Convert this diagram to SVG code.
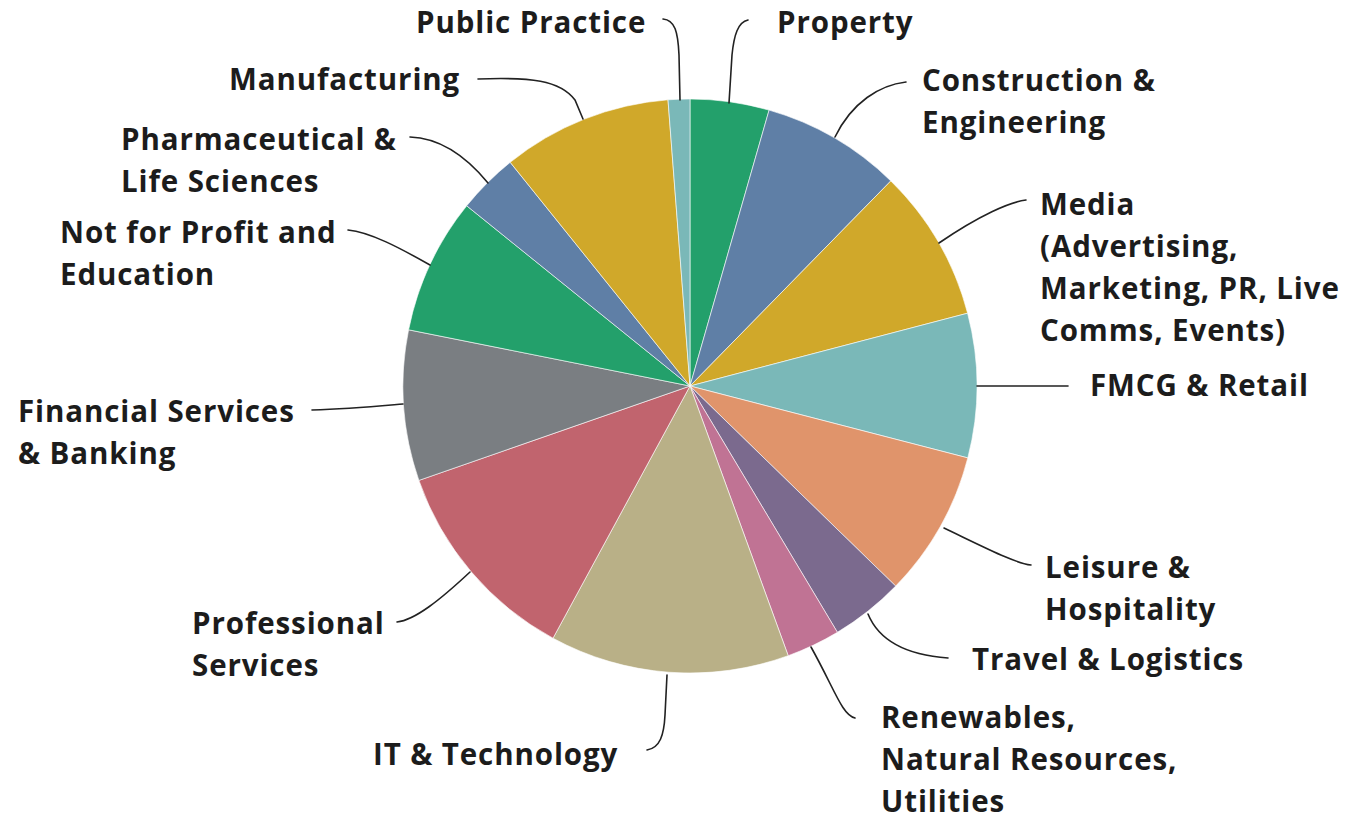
<svg xmlns="http://www.w3.org/2000/svg" width="1345" height="819" viewBox="0 0 1345 819">
<style>
.s{stroke:#ffffff;stroke-width:0.6;stroke-linejoin:round}
.l{fill:none;stroke:#222;stroke-width:1.6;stroke-linecap:round}
text{font-family:"Open Sans","Liberation Sans",sans-serif;font-weight:700;font-size:29.5px;letter-spacing:0.9px;fill:#1c1c1c}
</style>
<rect width="1345" height="819" fill="#ffffff"/>
<g id="pie">
<g id="slice-property"><path class="s" fill="#23a06b" d="M690,386 L690,99 A287,287 0 0 1 769.1,110.1 Z"/></g>
<g id="slice-construction"><path class="s" fill="#5f7fa6" d="M690,386 L769.1,110.1 A287,287 0 0 1 890.8,180.9 Z"/></g>
<g id="slice-media"><path class="s" fill="#d0a82a" d="M690,386 L890.8,180.9 A287,287 0 0 1 967.6,313.2 Z"/></g>
<g id="slice-fmcg"><path class="s" fill="#7ab8b8" d="M690,386 L967.6,313.2 A287,287 0 0 1 967.8,457.9 Z"/></g>
<g id="slice-leisure"><path class="s" fill="#e0946b" d="M690,386 L967.8,457.9 A287,287 0 0 1 895.7,586.1 Z"/></g>
<g id="slice-travel"><path class="s" fill="#7b6a8e" d="M690,386 L895.7,586.1 A287,287 0 0 1 837.4,632.3 Z"/></g>
<g id="slice-renewables"><path class="s" fill="#c07394" d="M690,386 L837.4,632.3 A287,287 0 0 1 788.2,655.7 Z"/></g>
<g id="slice-it"><path class="s" fill="#b9b087" d="M690,386 L788.2,655.7 A287,287 0 0 1 553,638.2 Z"/></g>
<g id="slice-professional"><path class="s" fill="#c1646e" d="M690,386 L553,638.2 A287,287 0 0 1 418.9,480.4 Z"/></g>
<g id="slice-financial"><path class="s" fill="#7a7e82" d="M690,386 L418.9,480.4 A287,287 0 0 1 408.6,329.8 Z"/></g>
<g id="slice-notforprofit"><path class="s" fill="#23a06b" d="M690,386 L408.6,329.8 A287,287 0 0 1 466.7,205.8 Z"/></g>
<g id="slice-pharma"><path class="s" fill="#5f7fa6" d="M690,386 L466.7,205.8 A287,287 0 0 1 510.2,162.3 Z"/></g>
<g id="slice-manufacturing"><path class="s" fill="#d0a82a" d="M690,386 L510.2,162.3 A287,287 0 0 1 668,99.8 Z"/></g>
<g id="slice-public"><path class="s" fill="#7ab8b8" d="M690,386 L668,99.8 A287,287 0 0 1 690,99 Z"/></g>
</g>
<g id="connectors">
<path class="l" d="M663,19 C675,20 678,32 679,55 L680,100"/>
<path class="l" d="M748,20 C738,22 734,35 732,55 L729,103"/>
<path class="l" d="M906,82 C880,85 852,102 835,137"/>
<path class="l" d="M1026,200 C1010,202 980,215 939,243"/>
<path class="l" d="M977,386 L1068,386"/>
<path class="l" d="M1031,565 C1015,563 990,550 944,528"/>
<path class="l" d="M948,658 C920,656 882,648 868,614"/>
<path class="l" d="M855,718 C842,715 835,690 811,647"/>
<path class="l" d="M647,750 C660,748 664,735 665,715 L667,675"/>
<path class="l" d="M397,622 C415,620 440,600 470,572"/>
<path class="l" d="M312,410 C350,409 380,406 403,404"/>
<path class="l" d="M348,230 C370,232 400,248 430,265"/>
<path class="l" d="M410,137 C440,138 465,155 488,183"/>
<path class="l" d="M478,79 C530,77 560,80 575,100 L583,119"/>
</g>
<g id="labels">
<g id="label-public"><text x="416" y="33">Public Practice</text></g>
<g id="label-property"><text x="777" y="33">Property</text></g>
<g id="label-construction"><text x="922" y="91">Construction &amp;</text><text x="922" y="133">Engineering</text></g>
<g id="label-media"><text x="1040" y="215">Media</text><text x="1040" y="257">(Advertising,</text><text x="1040" y="299">Marketing, PR, Live</text><text x="1040" y="341">Comms, Events)</text></g>
<g id="label-fmcg"><text x="1090" y="396">FMCG &amp; Retail</text></g>
<g id="label-leisure"><text x="1045" y="578">Leisure &amp;</text><text x="1045" y="620">Hospitality</text></g>
<g id="label-travel"><text x="972" y="670">Travel &amp; Logistics</text></g>
<g id="label-renewables"><text x="881" y="728">Renewables,</text><text x="881" y="770">Natural Resources,</text><text x="881" y="812">Utilities</text></g>
<g id="label-it"><text x="373" y="765">IT &amp; Technology</text></g>
<g id="label-professional"><text x="192" y="634">Professional</text><text x="192" y="676">Services</text></g>
<g id="label-financial"><text x="18" y="422">Financial Services</text><text x="18" y="464">&amp; Banking</text></g>
<g id="label-notforprofit"><text x="60" y="243">Not for Profit and</text><text x="60" y="285">Education</text></g>
<g id="label-pharma"><text x="121" y="150">Pharmaceutical &amp;</text><text x="121" y="192">Life Sciences</text></g>
<g id="label-manufacturing"><text x="229" y="90">Manufacturing</text></g>
</g>
</svg>
